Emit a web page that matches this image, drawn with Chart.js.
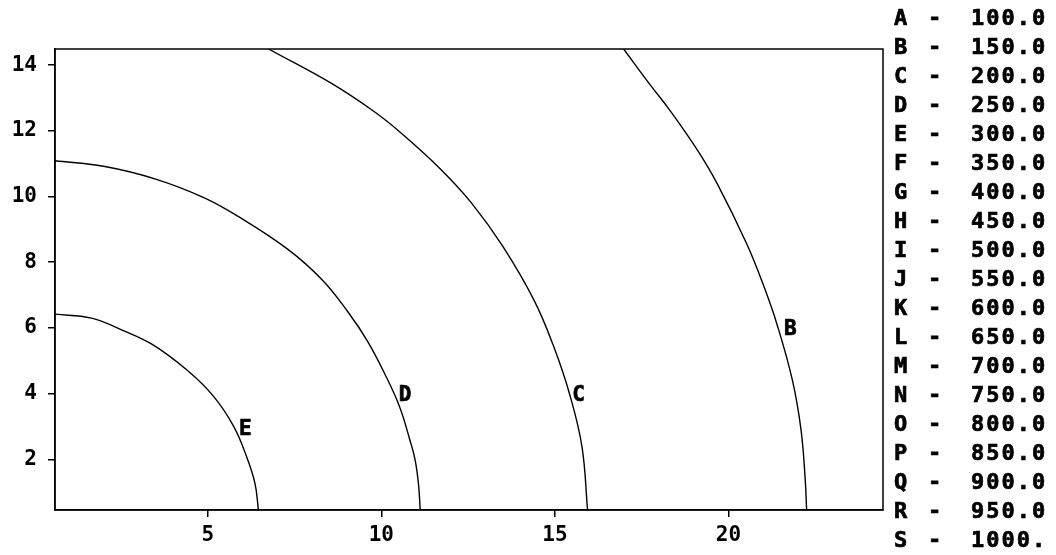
<!DOCTYPE html>
<html>
<head>
<meta charset="utf-8">
<script src="https://cdn.jsdelivr.net/npm/chart.js@4.4.1/dist/chart.umd.min.js"></script>
<style>
  html, body { margin: 0; padding: 0; background: #fff; }
  #wrap { width: 1056px; height: 555px; }
</style>
</head>
<body>
<div id="wrap"><canvas id="myChart" width="1056" height="555"></canvas></div>
<script>
// contour lines, [x, y]
const curveB = [[16.98, 14.49], [17.75, 13.39], [18.3, 12.64], [19.1, 11.42], [19.67, 10.4], [20.53, 8.55], [21.0, 7.32], [21.4, 6.1], [21.84, 4.41], [22.09, 2.89], [22.21, 1.37], [22.25, 0.46]];
const curveC = [[6.75, 14.49], [8.6, 13.42], [9.8, 12.58], [10.55, 11.95], [11.7, 10.84], [12.6, 9.8], [13.5, 8.48], [14.4, 6.84], [14.96, 5.45], [15.43, 3.96], [15.78, 2.38], [15.94, 0.46]];
const curveD = [[0.6, 11.09], [2.0, 10.92], [3.5, 10.53], [4.9, 9.96], [5.9, 9.38], [7.3, 8.4], [8.3, 7.46], [9.05, 6.47], [9.6, 5.6], [10.1, 4.6], [10.52, 3.62], [10.82, 2.6], [10.97, 2.0], [11.07, 1.25], [11.12, 0.46]];
const curveE = [[0.6, 6.42], [1.65, 6.3], [2.5, 5.95], [3.4, 5.5], [4.4, 4.72], [5.15, 3.94], [5.75, 3.0], [6.12, 2.08], [6.36, 1.27], [6.46, 0.46]];

const curveNames = ["B", "C", "D", "E"];
const labelX = [21.6, 15.5, 10.5, 5.9];
const labelY = [5.94, 3.93, 3.93, 2.9];

const xTicks = [5, 10, 15, 20];
const yTicks = [2, 4, 6, 8, 10, 12, 14];

const legendLetters = ["A", "B", "C", "D", "E", "F", "G", "H", "I", "J", "K", "L", "M", "N", "O", "P", "Q", "R", "S"];
const legendValues = ["100.0", "150.0", "200.0", "250.0", "300.0", "350.0", "400.0", "450.0", "500.0", "550.0", "600.0", "650.0", "700.0", "750.0", "800.0", "850.0", "900.0", "950.0", "1000."];

const FONT = "DejaVu Sans Mono";

const toPoints = (arr) => arr.map((p) => ({ x: p[0], y: p[1] }));

// heavier text, like the old plotter font
const heavyText = (ctx, text, x, y) => {
  ctx.fillText(text, x, y);
  ctx.strokeText(text, x, y);
};

const boxPlugin = {
  id: "boxAndText",
  afterDraw(chart) {
    const { ctx, chartArea, scales } = chart;
    ctx.save();
    ctx.strokeStyle = "#000";
    ctx.lineWidth = 1.5;
    ctx.strokeRect(chartArea.left, chartArea.top, chartArea.right - chartArea.left, chartArea.bottom - chartArea.top);

    ctx.fillStyle = "#000";
    ctx.lineWidth = 0.7;
    ctx.font = "bold 21px " + FONT;
    ctx.textBaseline = "middle";
    ctx.textAlign = "left";
    curveNames.forEach((name, i) => {
      heavyText(ctx, name, scales.x.getPixelForValue(labelX[i]), scales.y.getPixelForValue(labelY[i]));
    });

    ctx.font = "bold 22px " + FONT;
    ctx.letterSpacing = "2px";
    legendLetters.forEach((l, i) => {
      const y = 19 + i * 29.04;
      heavyText(ctx, l, 894, y);
      heavyText(ctx, "-", 928, y);
      heavyText(ctx, legendValues[i], 971, y);
    });
    ctx.restore();
  },
};

const tickFont = { family: FONT, weight: "bold", size: 21 };

new Chart(document.getElementById("myChart"), {
  type: "scatter",
  data: {
    datasets: [curveB, curveC, curveD, curveE].map((c) => ({
      data: toPoints(c),
      showLine: true,
      borderColor: "#000",
      borderWidth: 1.4,
      pointRadius: 0,
      tension: 0.4,
    })),
  },
  options: {
    responsive: false,
    animation: false,
    layout: { padding: { top: 49, right: 173, left: 0, bottom: 0 } },
    plugins: { legend: { display: false }, tooltip: { enabled: false } },
    scales: {
      x: {
        type: "linear",
        min: 0.6,
        max: 24.45,
        afterBuildTicks: (s) => { s.ticks = xTicks.map((v) => ({ value: v })); },
        afterFit: (s) => { s.height = 45; },
        grid: { drawOnChartArea: false, drawTicks: true, tickLength: 7, color: "#000", lineWidth: 1.5 },
        border: { display: true, color: "#000", width: 1.5 },
        ticks: { color: "#000", font: tickFont, padding: 6, maxRotation: 0 },
      },
      y: {
        type: "linear",
        min: 0.46,
        max: 14.49,
        afterBuildTicks: (s) => { s.ticks = yTicks.map((v) => ({ value: v })); },
        afterFit: (s) => { s.width = 55; },
        grid: { drawOnChartArea: false, drawTicks: true, tickLength: 7, color: "#000", lineWidth: 1.5 },
        border: { display: true, color: "#000", width: 1.5 },
        ticks: { color: "#000", font: tickFont, padding: 11 },
      },
    },
  },
  plugins: [boxPlugin],
});
</script>
</body>
</html>
